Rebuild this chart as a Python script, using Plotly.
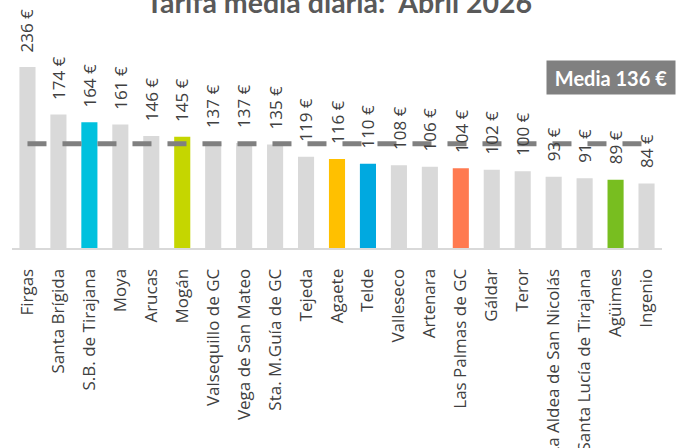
import plotly.graph_objects as go

categories = ["Firgas", "Santa Brígida", "S.B. de Tirajana", "Moya", "Arucas", "Mogán",
              "Valsequillo de GC", "Vega de San Mateo", "Sta. M.Guía de GC", "Tejeda",
              "Agaete", "Telde", "Valleseco", "Artenara", "Las Palmas de GC", "Gáldar",
              "Teror", "La Aldea de San Nicolás", "Santa Lucía de Tirajana", "Agüimes", "Ingenio"]
values = [236, 174, 164, 161, 146, 145, 137, 137, 135, 119, 116, 110, 108, 106, 104, 102,
          100, 93, 91, 89, 84]
colors = ["#D9D9D9", "#D9D9D9", "#00C1DE", "#D9D9D9", "#D9D9D9", "#C5D600", "#D9D9D9",
          "#D9D9D9", "#D9D9D9", "#D9D9D9", "#FFC000", "#00A9E0", "#D9D9D9", "#D9D9D9",
          "#FF7A50", "#D9D9D9", "#D9D9D9", "#D9D9D9", "#D9D9D9", "#78BE20", "#D9D9D9"]
mean_value = 136
title_text = "Tarifa media diaria:  Abril 2026"

W, H = 678, 448
ml, mr, mt, mb = 11.5, 15.5, 20, 200
plot_w = W - ml - mr
plot_h = H - mt - mb
ymax = plot_h / 0.767


def px(fx):
    return (fx - ml) / plot_w


def py(fy):
    return (H - mb - fy) / plot_h


fig = go.Figure()
fig.add_trace(go.Bar(x=categories, y=values, marker=dict(color=colors, line=dict(width=0)),
                     hoverinfo="skip"))
fig.add_trace(go.Scatter(x=categories, y=[mean_value] * len(categories), mode="lines",
                         line=dict(color="#808080", width=5, dash="19px,16px"),
                         hoverinfo="skip"))

annotations = []
for c, v in zip(categories, values):
    annotations.append(dict(x=c, y=v, xref="x", yref="y", text=f"{v} €", textangle=-90,
                            showarrow=False, yanchor="bottom", yshift=13,
                            font=dict(family="Open Sans", size=17, color="#404040")))

annotations.append(dict(xref="paper", yref="paper", x=px(339), y=py(2),
                        text=f"<b>{title_text}</b>", showarrow=False,
                        xanchor="center", yanchor="middle",
                        font=dict(family="Lato", size=28.5, color="#595959")))

annotations.append(dict(xref="paper", yref="paper", x=px(611), y=py(77.5),
                        text=f"<b>Media {mean_value} €</b>",
                        showarrow=False, xanchor="center", yanchor="middle",
                        bgcolor="#808080", borderpad=5, width=118, height=23,
                        font=dict(family="Lato", size=20, color="#FFFFFF")))

fig.update_layout(
    width=W, height=H,
    margin=dict(l=ml, r=mr, t=mt, b=mb, autoexpand=False),
    plot_bgcolor="white", paper_bgcolor="white",
    showlegend=False, bargap=0.48,
    annotations=annotations,
    xaxis=dict(showline=True, linecolor="#D9D9D9", linewidth=2, ticks="",
               tickangle=-90, ticklabelstandoff=12, automargin=False,
               tickfont=dict(family="Open Sans", size=17, color="#404040"),
               showgrid=False, fixedrange=True),
    yaxis=dict(range=[0, ymax], visible=False, showgrid=False, fixedrange=True),
)

fig.write_html("out.html", config={"displayModeBar": False},
               post_script="document.body.style.margin='0';")
